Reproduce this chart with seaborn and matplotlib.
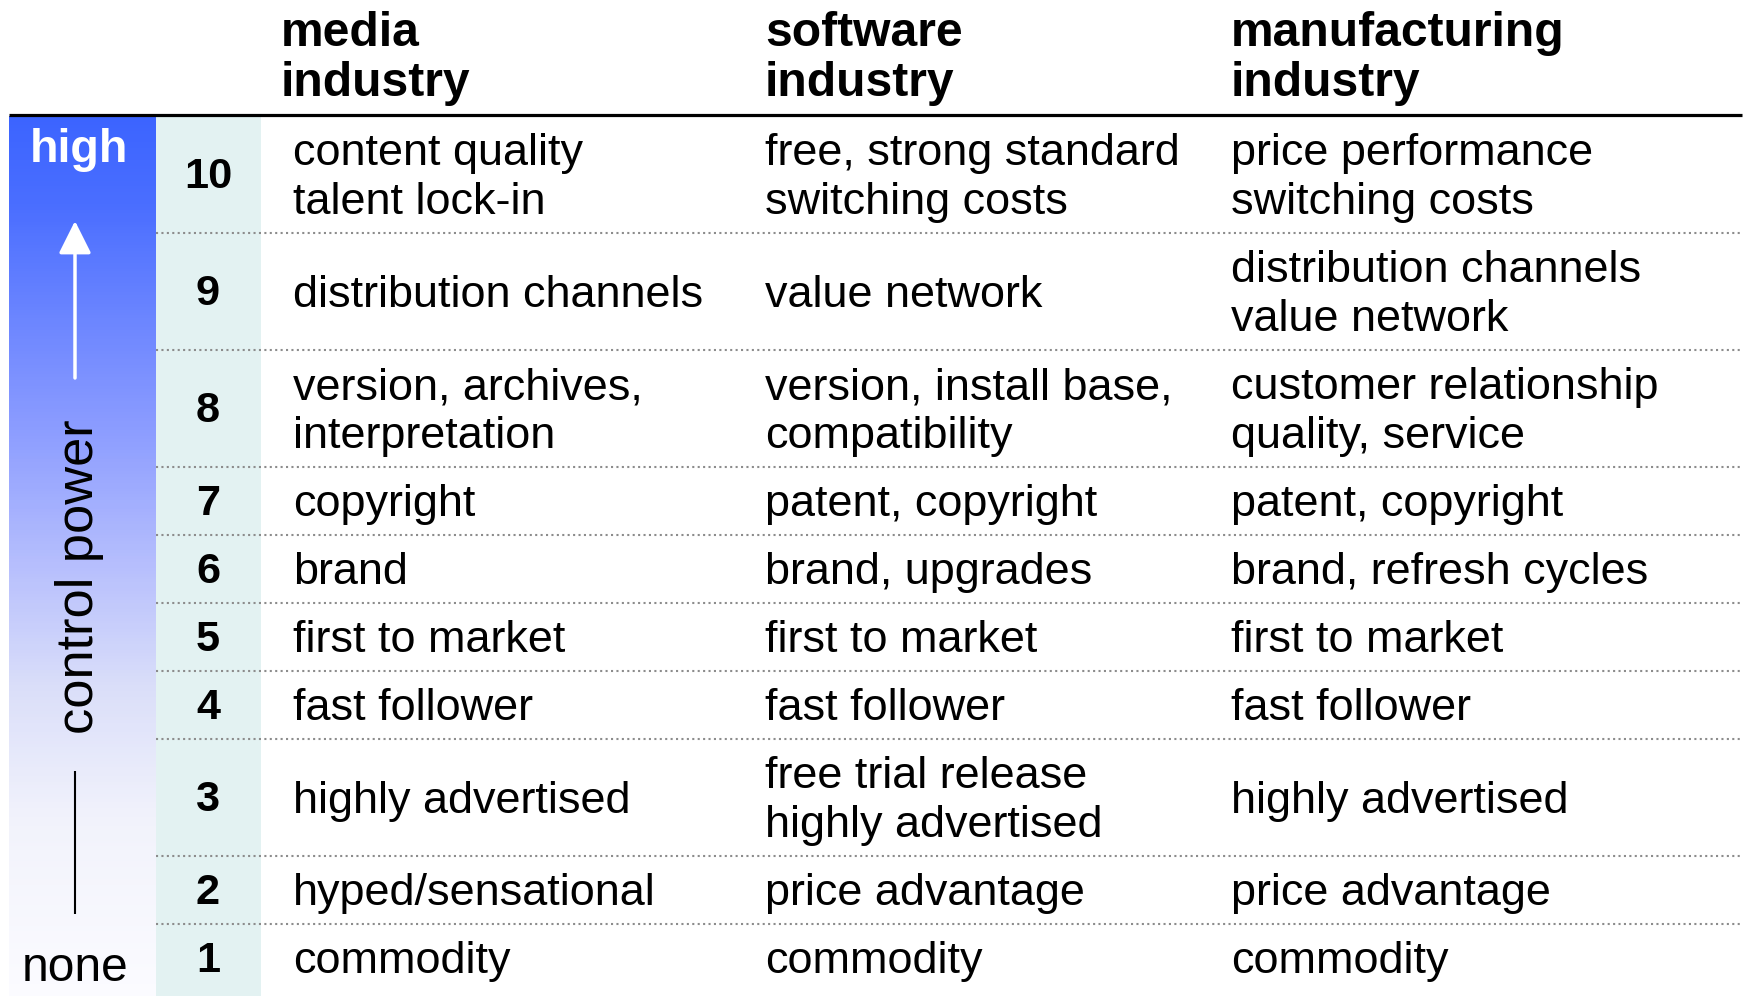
import numpy as np
import matplotlib
matplotlib.use("Agg")
import matplotlib.pyplot as plt
from matplotlib import font_manager
from matplotlib.colors import LinearSegmentedColormap
from matplotlib.patches import Rectangle
import seaborn as sns

# table content, top row = level 10
levels = [10, 9, 8, 7, 6, 5, 4, 3, 2, 1]
headers = ["media\nindustry", "software\nindustry", "manufacturing\nindustry"]
media = ["content quality\ntalent lock-in", "distribution channels",
         "version, archives,\ninterpretation", "copyright", "brand",
         "first to market", "fast follower", "highly advertised",
         "hyped/sensational", "commodity"]
software = ["free, strong standard\nswitching costs", "value network",
            "version, install base,\ncompatibility", "patent, copyright",
            "brand, upgrades", "first to market", "fast follower",
            "free trial release\nhighly advertised", "price advantage",
            "commodity"]
manufacturing = ["price performance\nswitching costs",
                 "distribution channels\nvalue network",
                 "customer relationship\nquality, service",
                 "patent, copyright", "brand, refresh cycles",
                 "first to market", "fast follower", "highly advertised",
                 "price advantage", "commodity"]

sns.set_theme(style="white")
names = {f.name for f in font_manager.fontManager.ttflist}
narrow = "Liberation Sans Narrow" in names
fam = ["Liberation Sans Narrow", "Liberation Sans"] if narrow else ["Liberation Sans", "DejaVu Sans"]
k = 1.0 if narrow else 0.82
plt.rcParams["font.family"] = fam

W, H = 1748, 996
fig = plt.figure(figsize=(W / 100, H / 100), dpi=100)
ax = fig.add_axes([0, 0, 1, 1])
ax.set_xlim(0, W)
ax.set_ylim(H, 0)
ax.axis("off")
ax.set_zorder(2)

TOP = 116
PANEL_L, PANEL_R = 9, 156
NUM_R = 261
RIGHT = 1742
col_x = [293, 765, 1231]
head_x = [281, 765, 1231]

# row heights from number of text lines
columns = [media, software, manufacturing]
n_lines = [max(c[i].count("\n") + 1 for c in columns) for i in range(len(levels))]
heights = [117 if n == 2 else 68 for n in n_lines]
edges = TOP + np.concatenate([[0], np.cumsum(heights)])
centers = (edges[:-1] + edges[1:]) / 2

# gradient strip for "control power"
cmap = LinearSegmentedColormap.from_list(
    "cp", [(0.0, "#3c64ff"), (0.1, "#4a6eff"), (0.35, "#8a9bff"),
           (0.5, "#b3bcfd"), (0.65, "#dadef9"), (0.8, "#f1f2fb"),
           (1.0, "#fbfbff")])
ax_g = fig.add_axes([PANEL_L / W, 0, (PANEL_R - PANEL_L) / W, (H - TOP) / H])
ax_g.set_zorder(1)
grad = np.linspace(0, 1, 300)[:, None]
sns.heatmap(grad, ax=ax_g, cmap=cmap, cbar=False, xticklabels=False,
            yticklabels=False, vmin=0, vmax=1)
ax_g.axis("off")

ax.add_patch(Rectangle((PANEL_R, TOP), NUM_R - PANEL_R, H - TOP,
                       facecolor="#e3f2f2", edgecolor="none", zorder=0))

# separators
ax.hlines(edges[1:-1], PANEL_R, RIGHT, colors="#8c8c8c",
          linestyles=(0, (1, 1.6)), lw=1.5, zorder=1)
ax.hlines(TOP - 1, PANEL_L, RIGHT, colors="black", lw=2.3, zorder=3)

BODY = 39.5 * k
gap = 24.5
dy = 3.5
for i, lvl in enumerate(levels):
    ax.text(208, centers[i] + 2.5, str(lvl), ha="center", va="center",
            fontsize=38 * k, fontweight="bold", color="black")
    for x, col in zip(col_x, columns):
        lines = col[i].split("\n")
        offs = [0] if len(lines) == 1 else [-gap, gap]
        for ln, o in zip(lines, offs):
            ax.text(x, centers[i] + o + dy, ln, ha="left", va="center",
                    fontsize=BODY, color="black")

HEAD = 42.2 * k
for x, h in zip(head_x, headers):
    l1, l2 = h.split("\n")
    ax.text(x, 33, l1, ha="left", va="center", fontsize=HEAD,
            fontweight="bold", color="black")
    ax.text(x, 83, l2, ha="left", va="center", fontsize=HEAD,
            fontweight="bold", color="black")

# control power axis annotations
ax.text(79, 150, "high", ha="center", va="center", fontsize=41 * k,
        fontweight="bold", color="white")
ax.text(75, 968, "none", ha="center", va="center", fontsize=42 * k,
        color="black")
ax.text(80, 577, "control power", ha="center", va="center", rotation=90,
        fontsize=46 * k, color="black")
ax.annotate("", xy=(75, 221), xytext=(75, 378),
            arrowprops=dict(arrowstyle="-|>,head_length=1.0,head_width=0.5",
                            mutation_scale=20, color="white", lw=2.5,
                            shrinkA=0, shrinkB=0))
ax.vlines(75, 771, 914, colors="black", lw=1.5)

fig.savefig("out.png", dpi=100)
